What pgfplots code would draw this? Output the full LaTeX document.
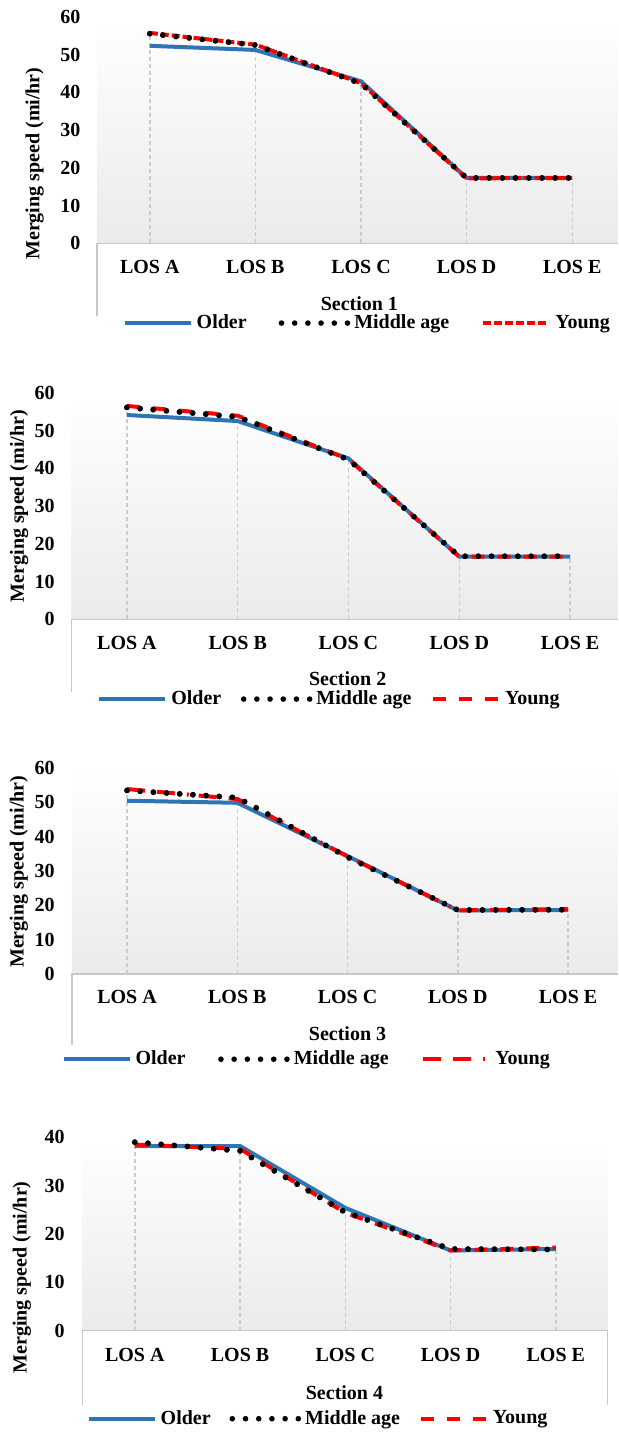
\documentclass[border=0pt]{standalone}
\usepackage{fontspec}
\setmainfont{Liberation Serif}
\usepackage{pgfplots}
\pgfplotsset{compat=1.18}
\definecolor{oldblue}{RGB}{46,117,182}
\newcommand\lf{\fontsize{10}{12}\selectfont\bfseries}
\tikzset{boxline/.style={black!22, line width=0.6pt}}

\pgfplotsset{
  panel/.style={
    scale only axis, clip=false,
    axis line style={draw=none},
    major tick length=0pt,
    xtick={0,1,2,3,4},
    xticklabels={LOS A,LOS B,LOS C,LOS D,LOS E},
    xmin=-0.5, ymin=0,
    tick label style={font=\lf},
    /pgf/number format/assume math mode=true,
    label style={font=\lf},
    axis background/.style={top color=white, bottom color=black!8},
    legend columns=3,
    legend style={draw=none, fill=none, font=\lf, inner sep=0pt, anchor=center},
    legend image code/.code={\draw[##1] (0pt,0pt) -- (33pt,0pt);},
    ylabel={Merging speed (mi/hr)},
  },
  older/.style={oldblue, line width=2pt},
  middle/.style={black, line width=2.8pt, line cap=round, dash pattern=on 0pt off 6.6pt},
  young/.style={red, line width=2pt},
  drop/.style={ycomb, black!20, line width=0.7pt, dash pattern=on 2pt off 1.5pt, forget plot},
}

\begin{document}
\begin{tikzpicture}
\useasboundingbox (0,0) rectangle (309pt,-716pt);

% ---------------- Section 1 ----------------
\begin{axis}[panel,
  at={(48.5pt,-121.65pt)}, anchor=south west,
  width=260.3pt, height=113.3pt,
  xmax=4.43, ymax=60, ytick={0,10,...,60},
  yticklabel style={anchor=east, inner sep=0pt, xshift=-8.1pt},
  xticklabel style={anchor=base, inner sep=0pt, yshift=-14.9pt},
  ylabel style={at={(axis description cs:-0.12,0.352)}, anchor=center},
  xlabel={Section 1},
  xlabel style={at={(axis description cs:0.504,-0.266)}, anchor=center},
  legend style={at={(axis description cs:0.521,-0.352)},
    /tikz/every even column/.append style={column sep=14pt}},
]
\draw[boxline] (rel axis cs:0,-0.32) -- (rel axis cs:0,0) -- (rel axis cs:1,0);
\addplot[drop] coordinates {(0,55.7) (1,52.6) (2,42.9) (3,17.3) (4,17.3)};
\addplot[older] coordinates {(0,52.3) (1,51.2) (2,42.9) (3,17.3) (4,17.3)};
\addlegendentry{Older}
\addplot[middle] coordinates {(0,55.5) (1,52.5) (2,42.3) (3,17.3) (4,17.3)};
\addlegendentry{Middle age}
\addplot[young, dash pattern=on 4pt off 1.5pt] coordinates {(0,55.7) (1,52.6) (2,42.4) (3,17.2) (4,17.3)};
\addlegendentry{Young}
\addplot[middle, forget plot] coordinates {(0,55.5) (1,52.5) (2,42.3) (3,17.3) (4,17.3)};
\end{axis}

% ---------------- Section 2 ----------------
\begin{axis}[panel,
  at={(35.75pt,-309.65pt)}, anchor=south west,
  width=273.1pt, height=113.3pt,
  xmax=4.43, ymax=60, ytick={0,10,...,60},
  yticklabel style={anchor=east, inner sep=0pt, xshift=-8.25pt},
  xticklabel style={anchor=base, inner sep=0pt, yshift=-15.2pt},
  ylabel style={at={(axis description cs:-0.096,0.5)}, anchor=center},
  xlabel={Section 2},
  xlabel style={at={(axis description cs:0.5057,-0.262)}, anchor=center},
  legend style={at={(axis description cs:0.474,-0.352)},
    /tikz/every even column/.append style={column sep=7.8pt}},
]
\draw[boxline] (rel axis cs:0,-0.32) -- (rel axis cs:0,0) -- (rel axis cs:1,0);
\addplot[drop] coordinates {(0,56.5) (1,53.9) (2,42.6) (3,16.7) (4,16.7)};
\addplot[older] coordinates {(0,54.1) (1,52.5) (2,42.6) (3,16.6) (4,16.6)};
\addlegendentry{Older}
\addplot[middle] coordinates {(0,56.1) (1,53.6) (2,42.3) (3,16.7) (4,16.7)};
\addlegendentry{Middle age}
\addplot[young, dash pattern=on 6.5pt off 6.5pt] coordinates {(0,56.5) (1,53.9) (2,42.4) (3,16.6) (4,16.6)};
\addlegendentry{Young}
\addplot[middle, forget plot] coordinates {(0,56.1) (1,53.6) (2,42.3) (3,16.7) (4,16.7)};
\end{axis}

% ---------------- Section 3 ----------------
\begin{axis}[panel,
  at={(35.95pt,-487pt)}, anchor=south west,
  width=272.9pt, height=103.15pt,
  xmax=4.45, ymax=60, ytick={0,10,...,60},
  yticklabel style={anchor=east, inner sep=0pt, xshift=-8.45pt},
  xticklabel style={anchor=base, inner sep=0pt, yshift=-14.85pt},
  ylabel style={at={(axis description cs:-0.097,0.496)}, anchor=center},
  xlabel={Section 3},
  xlabel style={at={(axis description cs:0.505,-0.287)}, anchor=center},
  legend style={at={(axis description cs:0.432,-0.413)},
    /tikz/every even column/.append style={column sep=14.3pt}},
]
\draw[boxline] (rel axis cs:0,-0.344) -- (rel axis cs:0,0) -- (rel axis cs:1,0);
\addplot[drop] coordinates {(0,53.8) (1,51.3) (2,34.3) (3,18.6) (4,18.9)};
\addplot[older] coordinates {(0,50.4) (1,49.8) (2,34.3) (3,18.5) (4,18.6)};
\addlegendentry{Older}
\addplot[middle] coordinates {(0,53.4) (1,51.3) (2,34.0) (3,18.6) (4,18.7)};
\addlegendentry{Middle age}
\addplot[young, dash pattern=on 9pt off 6pt on 9pt off 6pt on 1pt off 5pt] coordinates {(0,53.8) (1,50.9) (2,34.2) (3,18.5) (4,18.9)};
\addlegendentry{Young}
\addplot[middle, forget plot] coordinates {(0,53.4) (1,51.3) (2,34.0) (3,18.6) (4,18.7)};
\end{axis}

% ---------------- Section 4 ----------------
\begin{axis}[panel,
  at={(41.1pt,-665.35pt)}, anchor=south west,
  width=262.6pt, height=96.7pt,
  xmax=4.49, ymax=40, ytick={0,10,...,40},
  yticklabel style={anchor=east, inner sep=0pt, xshift=-8.6pt},
  xticklabel style={anchor=base, inner sep=0pt, yshift=-15.5pt},
  ylabel style={at={(axis description cs:-0.115,0.275)}, anchor=center},
  xlabel={Section 4},
  xlabel style={at={(axis description cs:0.4994,-0.3206)}, anchor=center},
  legend style={at={(axis description cs:0.451,-0.455)},
    /tikz/every even column/.append style={column sep=7.4pt}},
]
\draw[boxline] (rel axis cs:0,-0.385) -- (rel axis cs:0,0) -- (rel axis cs:1,0) -- (rel axis cs:1,-0.385);
\addplot[drop] coordinates {(0,39.0) (1,38.2) (2,25.4) (3,16.9) (4,17.2)};
\addplot[older] coordinates {(0,38.2) (1,38.2) (2,25.4) (3,16.6) (4,16.9)};
\addlegendentry{Older}
\addplot[middle] coordinates {(0,39.0) (1,37.2) (2,24.5) (3,16.9) (4,16.8)};
\addlegendentry{Middle age}
\addplot[young, dash pattern=on 6.5pt off 6.5pt] coordinates {(0,38.5) (1,37.6) (2,24.4) (3,16.6) (4,17.2)};
\addlegendentry{Young}
\addplot[middle, forget plot] coordinates {(0,39.0) (1,37.2) (2,24.5) (3,16.9) (4,16.8)};
\end{axis}
\end{tikzpicture}
\end{document}
